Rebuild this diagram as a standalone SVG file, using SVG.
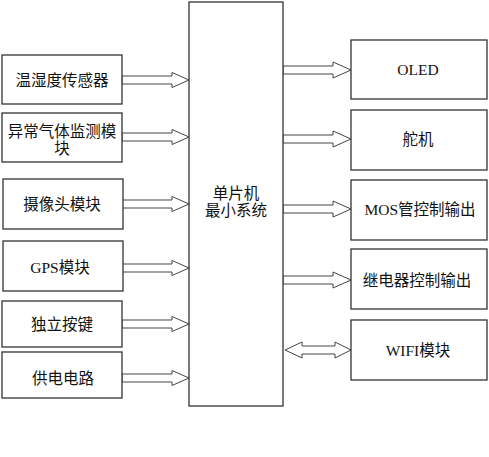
<svg xmlns="http://www.w3.org/2000/svg" xmlns:xlink="http://www.w3.org/1999/xlink" width="489" height="457" viewBox="0 0 489 457">
<style>
.box{fill:#fff;stroke:#333;stroke-width:1.3}
.arr{fill:#fff;stroke:#444;stroke-width:1}
text{font-family:"Liberation Serif","Noto Sans CJK SC",serif;font-size:15.5px;fill:#111;text-anchor:middle}
</style>
<defs>
<path id="la" d="M0,-4 H50 V-7.5 L67,0 L50,7.5 V4 H0 Z"/>
<path id="ra" d="M0,-4 H50 V-8 L68,0 L50,8 V4 H0 Z"/>
<path id="da" d="M2,0 L19,-8 V-4 H52 V-8 L68,0 L52,8 V4 H19 V8 Z"/>
</defs>
<rect width="489" height="457" fill="#fff"/>
<g id="connectors">
<use xlink:href="#la" class="arr" transform="translate(122,80)"/>
<use xlink:href="#la" class="arr" transform="translate(122,137)"/>
<use xlink:href="#la" class="arr" transform="translate(122,204)"/>
<use xlink:href="#la" class="arr" transform="translate(122,268)"/>
<use xlink:href="#la" class="arr" transform="translate(122,324)"/>
<use xlink:href="#la" class="arr" transform="translate(122,378)"/>
<use xlink:href="#ra" class="arr" transform="translate(283,70)"/>
<use xlink:href="#ra" class="arr" transform="translate(283,139)"/>
<use xlink:href="#ra" class="arr" transform="translate(283,209)"/>
<use xlink:href="#ra" class="arr" transform="translate(283,280)"/>
<use xlink:href="#da" class="arr" transform="translate(283,350)"/>
</g>
<g id="mcu"><rect class="box" x="189" y="2" width="94" height="404"/>
<text x="236" y="199">单片机</text><text x="236" y="216">最小系统</text></g>
<g id="n1"><rect class="box" x="2" y="55" width="120" height="49"/><text x="62" y="86">温湿度传感器</text></g>
<g id="n2"><rect class="box" x="2" y="113" width="120" height="49"/><text x="62" y="137">异常气体监测模</text><text x="62" y="154">块</text></g>
<g id="n3"><rect class="box" x="3" y="179" width="120" height="50"/><text x="62" y="210">摄像头模块</text></g>
<g id="n4"><rect class="box" x="3" y="241" width="120" height="50"/><text x="60" y="273">GPS模块</text></g>
<g id="n5"><rect class="box" x="2" y="301" width="120" height="46"/><text x="62" y="330">独立按键</text></g>
<g id="n6"><rect class="box" x="2" y="352" width="120" height="46"/><text x="63" y="384">供电电路</text></g>
<g id="r1"><rect class="box" x="351" y="40" width="136" height="59"/><text x="418" y="75">OLED</text></g>
<g id="r2"><rect class="box" x="351" y="110" width="136" height="60"/><text x="418" y="145">舵机</text></g>
<g id="r3"><rect class="box" x="351" y="180" width="136" height="60"/><text x="420" y="215">MOS管控制输出</text></g>
<g id="r4"><rect class="box" x="351" y="249" width="136" height="60"/><text x="417" y="286">继电器控制输出</text></g>
<g id="r5"><rect class="box" x="351" y="320" width="136" height="60"/><text x="418" y="356">WIFI模块</text></g>
</svg>
